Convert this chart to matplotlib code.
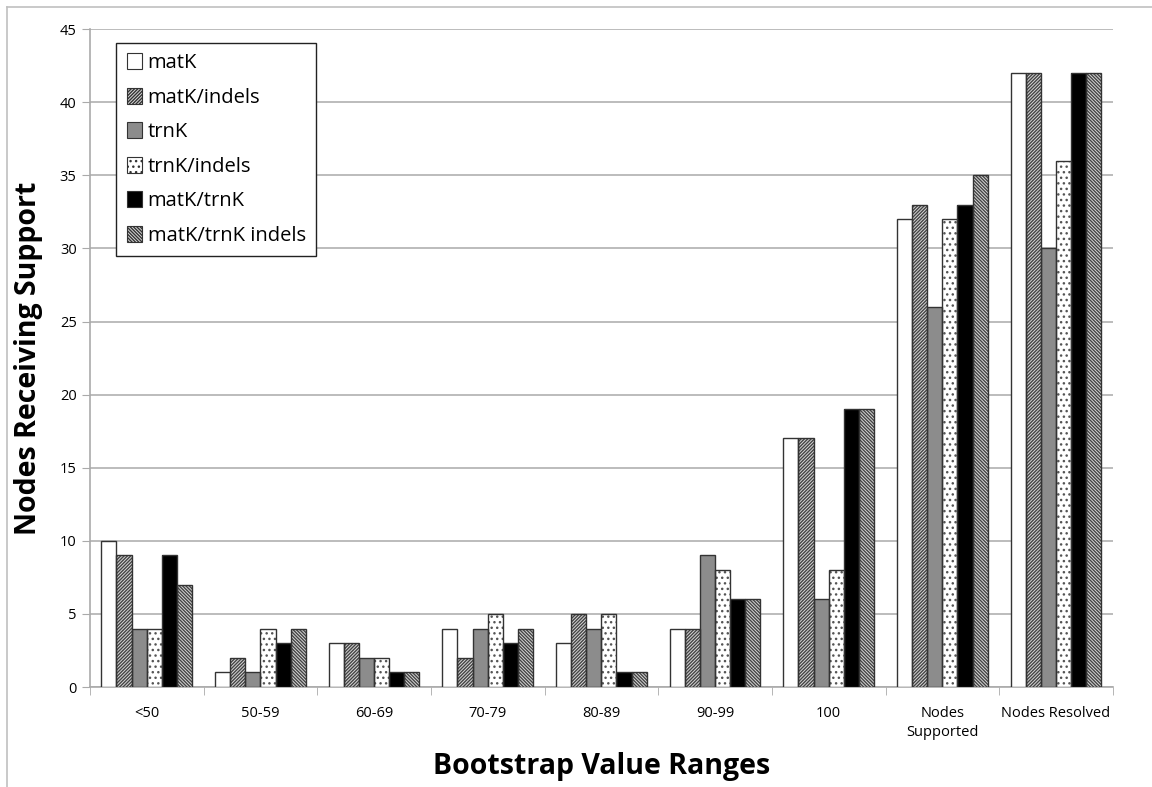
import numpy as np
import matplotlib.pyplot as plt
from matplotlib.lines import Line2D
from matplotlib.patches import Rectangle

# data
categories = ["<50", "50-59", "60-69", "70-79", "80-89", "90-99", "100",
              "Nodes\nSupported", "Nodes Resolved"]
series_names = ["matK", "matK/indels", "trnK", "trnK/indels", "matK/trnK",
                "matK/trnK indels"]
matk = [10, 1, 3, 4, 3, 4, 17, 32, 42]
matk_indels = [9, 2, 3, 2, 5, 4, 17, 33, 42]
trnk = [4, 1, 2, 4, 4, 9, 6, 26, 30]
trnk_indels = [4, 4, 2, 5, 5, 8, 8, 32, 36]
matk_trnk = [9, 3, 1, 3, 1, 6, 19, 33, 42]
matk_trnk_indels = [7, 4, 1, 4, 1, 6, 19, 35, 42]

series = [matk, matk_indels, trnk, trnk_indels, matk_trnk, matk_trnk_indels]
fills = ["white", "#d8d8d8", "#8c8c8c", "white", "black", "#d8d8d8"]
hatches = [None, "//////////", None, "...", None, "\\\\\\\\\\\\\\\\\\\\"]
hatch_colors = ["#333333", "#444444", "#333333", "#555555", "#333333", "#444444"]

plt.rcParams['font.family'] = ['Open Sans', 'DejaVu Sans']
plt.rcParams['hatch.linewidth'] = 1.0

fig = plt.figure(figsize=(11.52, 7.87), dpi=100)
ax = fig.add_axes([0.078, 0.127, 0.888, 0.836])

x = np.arange(len(categories))
n = len(series)
width = 0.8 / n
for i, vals in enumerate(series):
    pos = x - 0.4 + width * (i + 0.5)
    # hatch layer, then the dark outline on top
    ax.bar(pos, vals, width, color=fills[i], hatch=hatches[i],
           edgecolor=hatch_colors[i], linewidth=0, zorder=3)
    ax.bar(pos, vals, width, fill=False, edgecolor="#333333", linewidth=1.0,
           zorder=4)

handles = [Rectangle((0, 0), 1, 1, facecolor=fills[i], hatch=hatches[i],
                     edgecolor="#333333", linewidth=0.8)
           for i in range(n)]

ax.set_xlim(-0.5, len(categories) - 0.5)
ax.set_ylim(0, 45)
ax.set_yticks(np.arange(0, 46, 5))
ax.yaxis.grid(True, color="#b0b0b0", linewidth=1.2, zorder=0)
ax.set_xticks(x)
ax.set_xticklabels(categories, fontsize=10.5, linespacing=1.3)
ax.set_xticks(np.arange(-0.5, len(categories), 1.0), minor=True)
ax.tick_params(axis="x", which="major", length=0, pad=14)
ax.tick_params(axis="x", which="minor", length=6, color="#aaaaaa")
ax.tick_params(axis="y", length=6, color="#aaaaaa", labelsize=10.5)

for s in ["top", "right"]:
    ax.spines[s].set_visible(False)
for s in ["left", "bottom"]:
    ax.spines[s].set_color("#aaaaaa")
    ax.spines[s].set_linewidth(1.2)

ax.set_xlabel("Bootstrap Value Ranges", fontsize=20.5, fontweight="bold", labelpad=9)
ax.set_ylabel("Nodes Receiving Support", fontsize=20.5, fontweight="bold", labelpad=12)

leg = ax.legend(handles, series_names, loc="upper left",
                bbox_to_anchor=(0.026, 0.979), borderaxespad=0, fontsize=14.5,
                frameon=True, fancybox=False, handlelength=0.75, handleheight=0.85,
                handletextpad=0.3, labelspacing=0.72, borderpad=0.5)
leg.get_frame().set_edgecolor("#222222")
leg.get_frame().set_linewidth(1.0)
leg.get_frame().set_alpha(1)

# light outer frame like the original chart area border
fig.add_artist(Line2D([0.006, 0.006], [0.0, 0.991], color="#c0c0c0", lw=1.2))
fig.add_artist(Line2D([0.006, 1.0], [0.991, 0.991], color="#c0c0c0", lw=1.2))

fig.savefig("out.png", dpi=100)
